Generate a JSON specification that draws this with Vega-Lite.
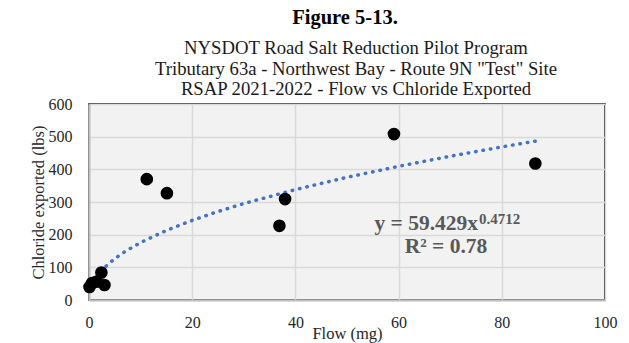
{
  "$schema": "https://vega.github.io/schema/vega-lite/v6.json",
  "background": "white",
  "padding": {"left": 29, "top": 7, "right": 5, "bottom": 5},
  "title": {
    "text": "Figure 5-13.",
    "font": "Liberation Serif",
    "fontSize": 20.5,
    "fontWeight": "bold",
    "color": "#000000",
    "anchor": "middle",
    "frame": "group",
    "offset": 10,
    "dx": -2
  },
  "datasets": {
    "points": [
      {"flow": 0.1, "chloride": 40},
      {"flow": 0.6, "chloride": 52},
      {"flow": 1.4, "chloride": 56},
      {"flow": 2.4, "chloride": 84},
      {"flow": 3.0, "chloride": 46},
      {"flow": 11.2, "chloride": 370},
      {"flow": 15.1, "chloride": 327},
      {"flow": 36.9, "chloride": 227},
      {"flow": 38.0, "chloride": 309},
      {"flow": 59.1, "chloride": 508},
      {"flow": 86.5, "chloride": 418}
    ],
    "trend": [
      {"flow": 0.2, "chloride": 27.8},
      {"flow": 0.5, "chloride": 42.9},
      {"flow": 1, "chloride": 59.4},
      {"flow": 2, "chloride": 82.4},
      {"flow": 3, "chloride": 99.7},
      {"flow": 5, "chloride": 126.9},
      {"flow": 7, "chloride": 148.7},
      {"flow": 10, "chloride": 175.9},
      {"flow": 15, "chloride": 212.9},
      {"flow": 20, "chloride": 243.8},
      {"flow": 25, "chloride": 270.8},
      {"flow": 30, "chloride": 295.1},
      {"flow": 40, "chloride": 338.0},
      {"flow": 50, "chloride": 375.5},
      {"flow": 60, "chloride": 409.1},
      {"flow": 70, "chloride": 440.0},
      {"flow": 80, "chloride": 468.6},
      {"flow": 86.5, "chloride": 486.1}
    ],
    "note": [{"eq": "y = 59.429x", "exp": "0.4712", "r2": "R² = 0.78"}]
  },
  "config": {
    "view": {"fill": "#f2f2f2", "stroke": "#000000", "strokeWidth": 1.5},
    "axis": {
      "labelFont": "Liberation Serif",
      "labelFontSize": 16,
      "labelColor": "#262626",
      "labelOverlap": false,
      "labelFlush": false,
      "titleFont": "Liberation Serif",
      "titleFontSize": 16.5,
      "titleFontWeight": "normal",
      "titleColor": "#262626",
      "ticks": false,
      "gridColor": "#d9d9d9",
      "gridWidth": 1.5,
      "domainColor": "#bfbfbf",
      "domainWidth": 2
    }
  },
  "vconcat": [
    {
      "width": 516,
      "height": 196,
      "title": {
        "text": [
          "NYSDOT Road Salt Reduction Pilot Program",
          "Tributary 63a - Northwest Bay - Route 9N \"Test\" Site",
          "RSAP 2021-2022 - Flow vs Chloride Exported"
        ],
        "font": "Liberation Serif",
        "fontSize": 18.7,
        "fontWeight": "normal",
        "color": "#1a1a1a",
        "lineHeight": 20.7,
        "anchor": "middle",
        "frame": "group",
        "offset": -3,
        "dx": 9
      },
      "layer": [
        {
          "data": {"name": "trend"},
          "mark": {"type": "line", "color": "#4472C4", "strokeWidth": 3.5, "strokeDash": [0.5, 7], "strokeCap": "round"},
          "encoding": {
            "x": {
              "field": "flow", "type": "quantitative", "title": "Flow (mg)",
              "scale": {"domain": [0, 100], "nice": false, "zero": true},
              "axis": {"values": [0, 20, 40, 60, 80, 100], "tickCount": 10, "labelPadding": 14, "titlePadding": -5}
            },
            "y": {
              "field": "chloride", "type": "quantitative", "title": "Chloride exported (lbs)",
              "scale": {"domain": [0, 600], "nice": false},
              "axis": {"values": [0, 100, 200, 300, 400, 500, 600], "tickCount": 10, "labelPadding": 17, "titlePadding": 2}
            }
          }
        },
        {
          "data": {"name": "points"},
          "mark": {"type": "circle", "color": "#000000", "opacity": 1, "size": 160},
          "encoding": {
            "x": {"field": "flow", "type": "quantitative"},
            "y": {"field": "chloride", "type": "quantitative"}
          }
        },
        {
          "data": {"name": "note"},
          "mark": {"type": "text", "font": "Liberation Serif", "fontSize": 21.5, "fontWeight": "bold", "color": "#595959", "align": "right", "baseline": "alphabetic"},
          "encoding": {
            "x": {"datum": 75.4},
            "y": {"datum": 214},
            "text": {"field": "eq", "type": "nominal"}
          }
        },
        {
          "data": {"name": "note"},
          "mark": {"type": "text", "font": "Liberation Serif", "fontSize": 15, "fontWeight": "bold", "color": "#595959", "align": "left", "baseline": "alphabetic", "dx": 1, "dy": -6},
          "encoding": {
            "x": {"datum": 75.4},
            "y": {"datum": 214},
            "text": {"field": "exp", "type": "nominal"}
          }
        },
        {
          "data": {"name": "note"},
          "mark": {"type": "text", "font": "Liberation Serif", "fontSize": 21.5, "fontWeight": "bold", "color": "#595959", "align": "center", "baseline": "alphabetic"},
          "encoding": {
            "x": {"datum": 69.2},
            "y": {"datum": 143},
            "text": {"field": "r2", "type": "nominal"}
          }
        }
      ]
    }
  ]
}
